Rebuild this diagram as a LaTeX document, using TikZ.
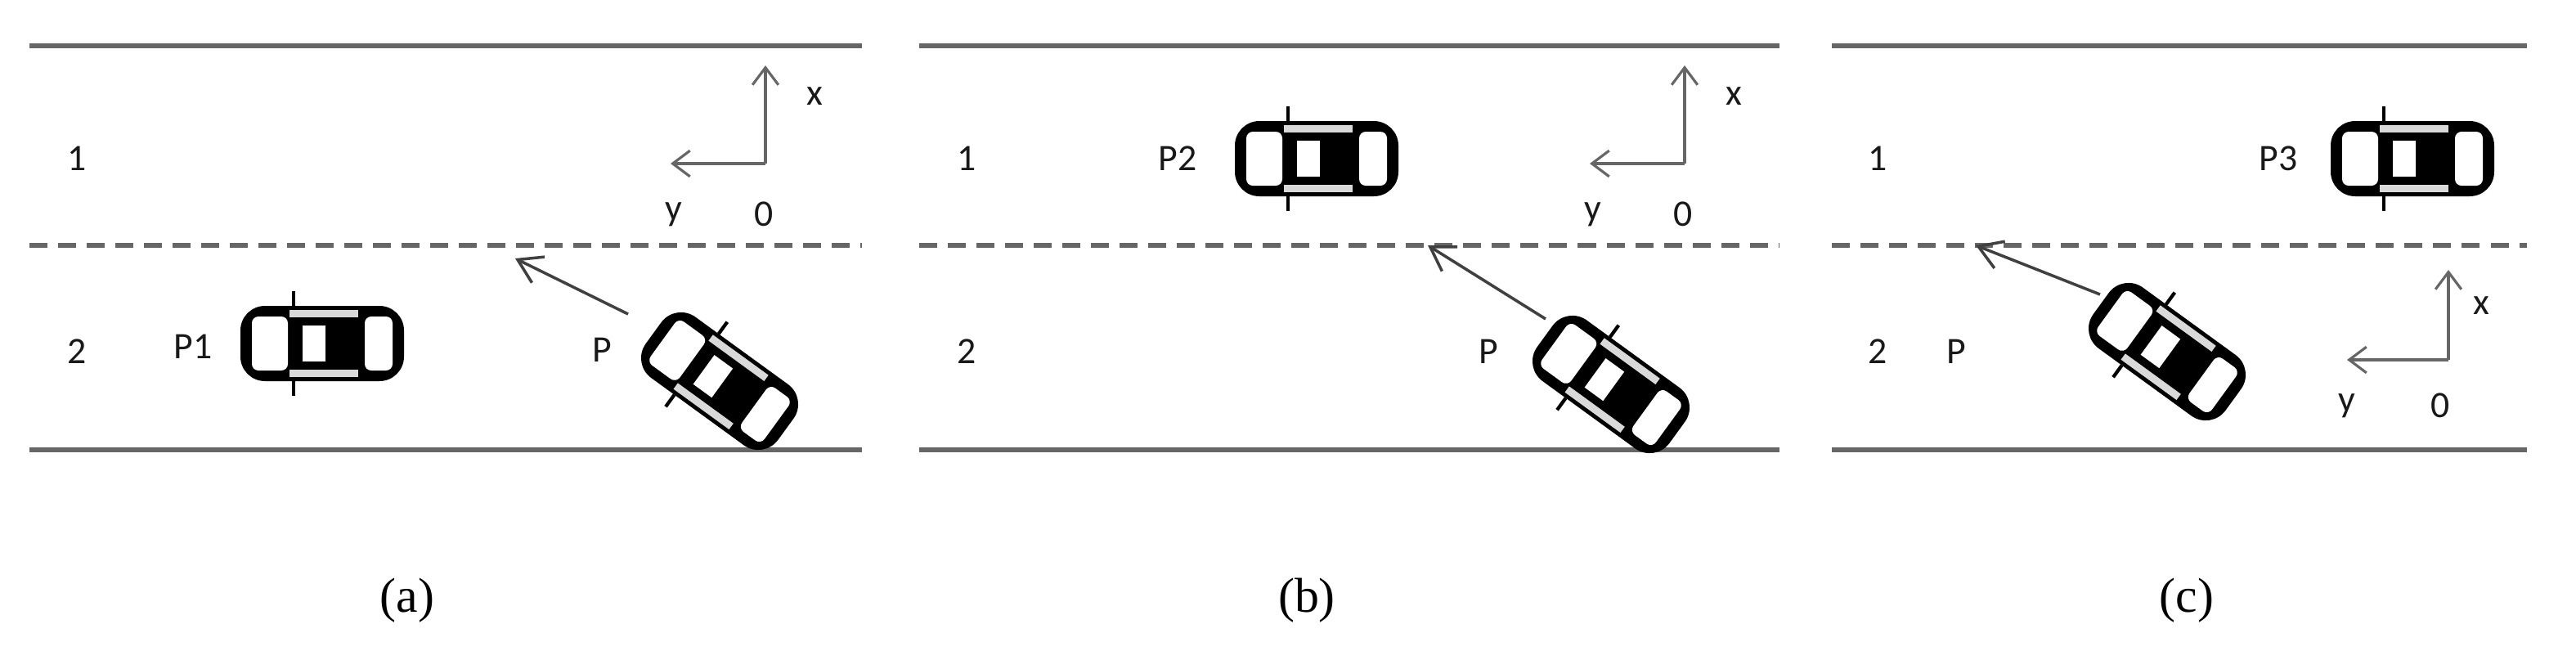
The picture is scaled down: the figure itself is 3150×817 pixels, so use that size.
\documentclass[tikz,border=0pt]{standalone}
\usepackage{fontspec}
\setmainfont{Carlito}
\newfontfamily\capfont{Liberation Serif}
\usetikzlibrary{arrows.meta}
\tikzset{
  road/.style={line width=1.5pt,draw=black!60},
  lane/.style={line width=1.5pt,draw=black!60,dash pattern=on 0.22cm off 0.13cm},
  lbl/.style={font=\fontsize{13}{15}\selectfont,text=black!90},
  captxt/.style={font=\capfont\fontsize{17}{20}\selectfont},
  axis/.style={line width=0.9pt,draw=black!60,-{Straight Barb[length=6pt,width=9pt]}},
  move/.style={line width=1pt,draw=black!75,-{Straight Barb[length=8pt,width=10pt]}},
  car/.pic={
    \fill[black,rounded corners=0.3cm] (-100,-46) rectangle (100,46);
    \draw[black,line width=1.2pt] (-35,-46) -- (-35,-64) (-35,46) -- (-35,64);
    \fill[white,rounded corners=0.08cm] (-86,-33) rectangle (-42,33);
    \fill[white,rounded corners=0.08cm] (52,-33) rectangle (86,33);
    \fill[black!15] (-40,-41) rectangle (44,-32);
    \fill[black!15] (-40,32) rectangle (44,41);
    \fill[white] (-24,-22) rectangle (4,22);
  }
}
\begin{document}
\begin{tikzpicture}[x=0.01cm,y=-0.01cm]
\useasboundingbox (0,0) rectangle (3150,817);
% panel a
\draw[road] (36,56) -- (1054,56);
\draw[road] (36,550) -- (1054,550);
\draw[lane] (36,300) -- (1054,300);
\node[lbl] (a1) at (94,194) {1};
\node[lbl] (a2) at (94,430) {2};
\coordinate (ao) at (936,200);
\coordinate (ax) at (936,80);
\coordinate (ay) at (820,200);
\draw[axis] (ao) -- (ax);
\draw[axis] (ao) -- (ay);
\node[lbl] (axl) at (996,118) {x};
\node[lbl] (ayl) at (824,262) {y};
\node[lbl] (a0l) at (934,262) {0};
\node[lbl] (ap1) at (236,424) {P1};
\pic at (394,420) {car};
\pic[rotate=-36] at (880,466) {car};
\node[lbl] (ap) at (736,428) {P};
\coordinate (as) at (768,384);
\coordinate (ae) at (630,316);
\draw[move] (as) -- (ae);
\node[captxt] (ca) at (498,734) {(a)};
% panel b
\draw[road] (1124,56) -- (2176,56);
\draw[road] (1124,550) -- (2176,550);
\draw[lane] (1124,300) -- (2176,300);
\node[lbl] (b1) at (1182,194) {1};
\node[lbl] (b2) at (1182,430) {2};
\coordinate (bo) at (2060,200);
\coordinate (bx) at (2060,80);
\coordinate (by) at (1944,200);
\draw[axis] (bo) -- (bx);
\draw[axis] (bo) -- (by);
\node[lbl] (bxl) at (2120,118) {x};
\node[lbl] (byl) at (1948,262) {y};
\node[lbl] (b0l) at (2058,262) {0};
\node[lbl] (bp2) at (1440,194) {P2};
\pic at (1610,194) {car};
\pic[rotate=-36] at (1970,470) {car};
\node[lbl] (bp) at (1820,430) {P};
\coordinate (bs) at (1890,390);
\coordinate (be) at (1746,300);
\draw[move] (bs) -- (be);
\node[captxt] (cb) at (1598,734) {(b)};
% panel c
\draw[road] (2240,56) -- (3090,56);
\draw[road] (2240,550) -- (3090,550);
\draw[lane] (2240,300) -- (3090,300);
\node[lbl] (c1) at (2296,194) {1};
\node[lbl] (c2) at (2296,430) {2};
\coordinate (co) at (2994,440);
\coordinate (cx) at (2994,330);
\coordinate (cy) at (2870,440);
\draw[axis] (co) -- (cx);
\draw[axis] (co) -- (cy);
\node[lbl] (cxl) at (3034,374) {x};
\node[lbl] (cyl) at (2870,496) {y};
\node[lbl] (c0l) at (2984,496) {0};
\node[lbl] (cp3) at (2786,194) {P3};
\pic at (2950,194) {car};
\pic[rotate=-36] at (2650,430) {car};
\node[lbl] (cp) at (2392,430) {P};
\coordinate (cs) at (2568,360);
\coordinate (ce) at (2416,300);
\draw[move] (cs) -- (ce);
\node[captxt] (cc) at (2674,734) {(c)};
\end{tikzpicture}
\end{document}
